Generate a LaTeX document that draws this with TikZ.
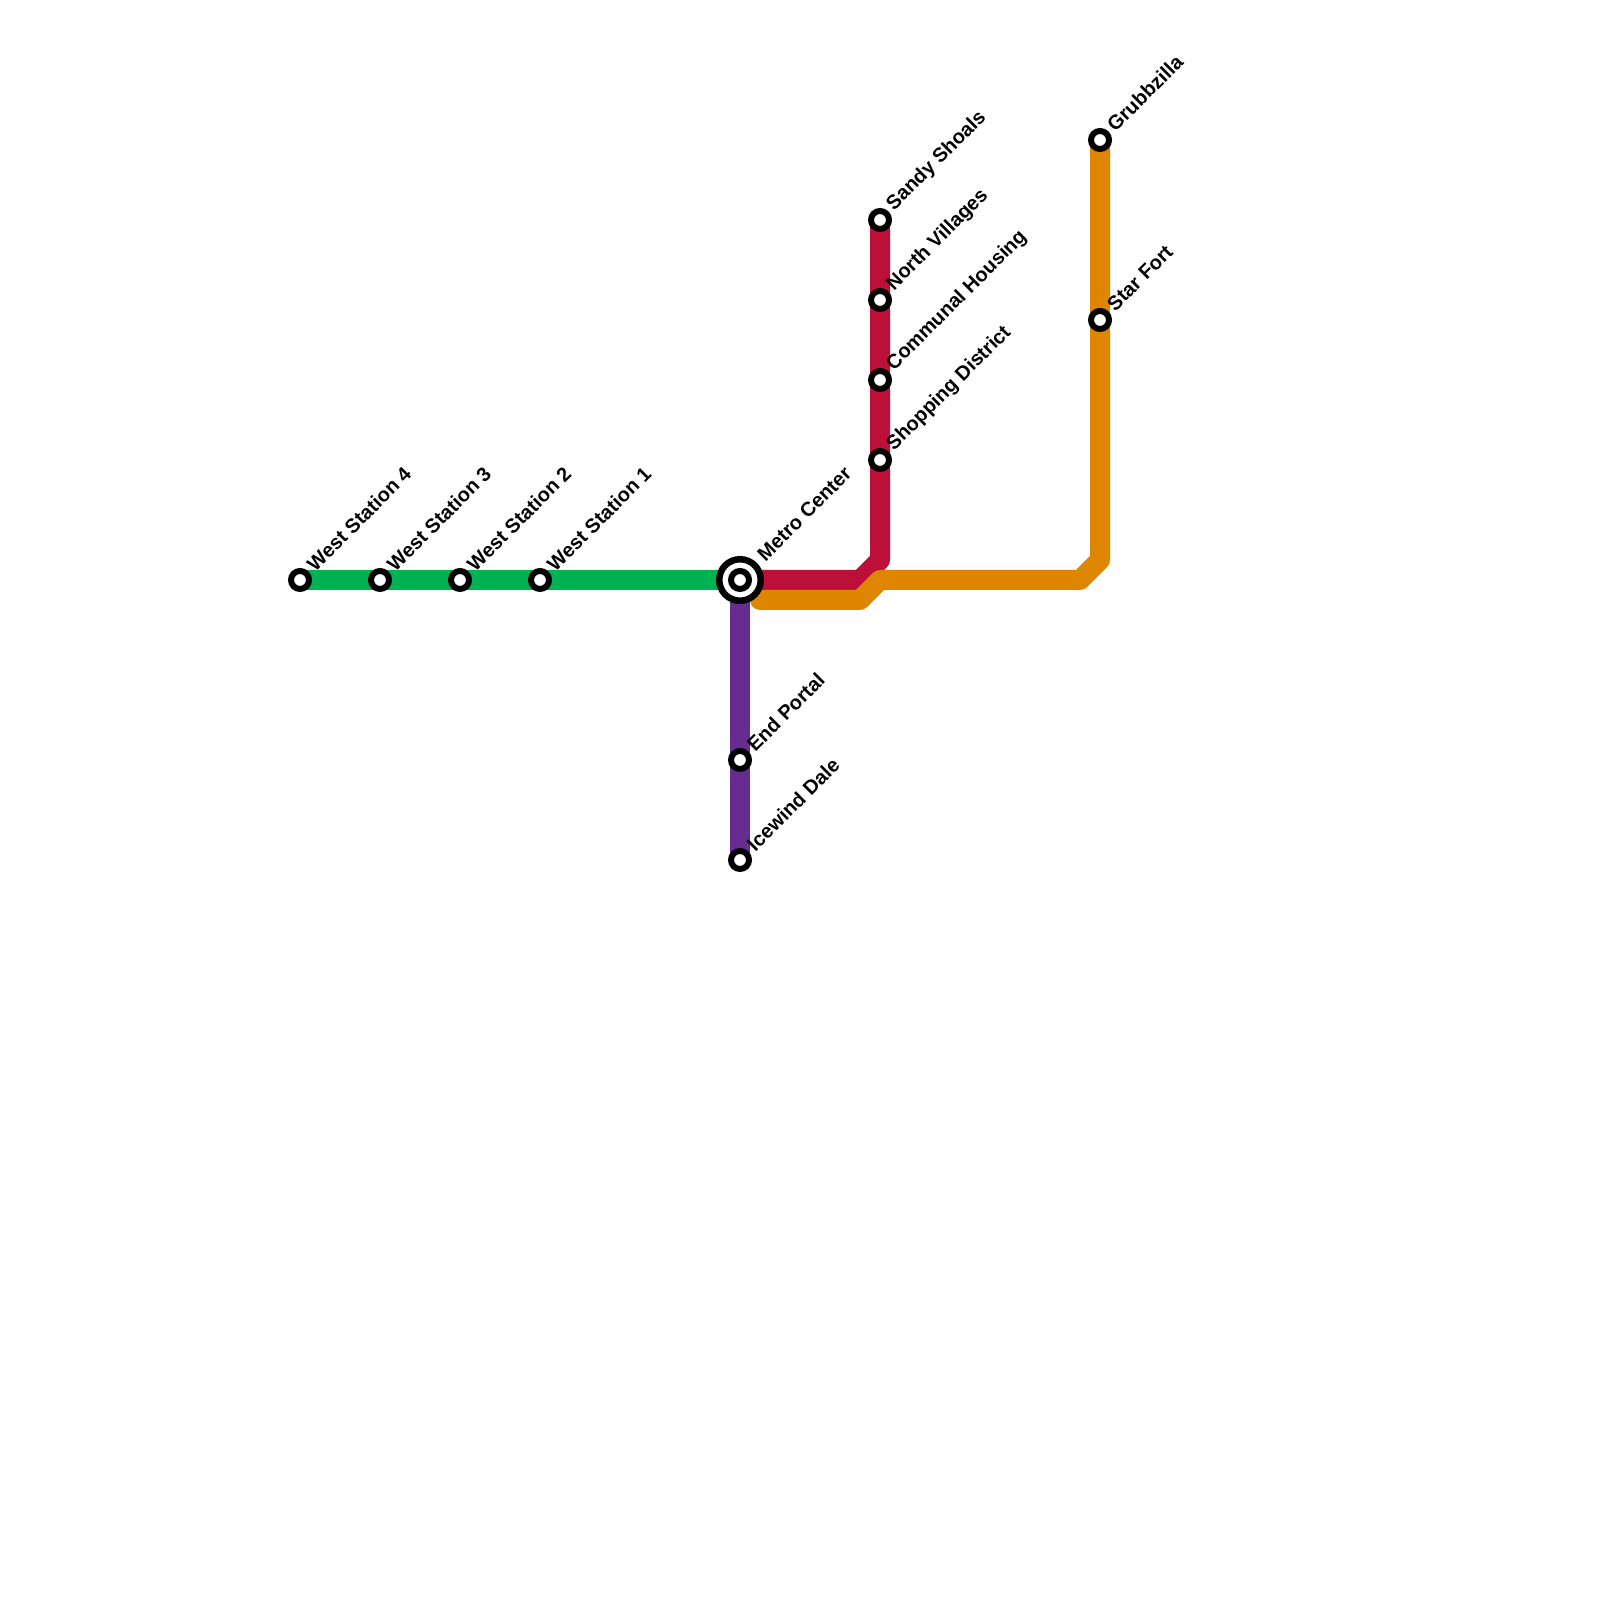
\documentclass[tikz,border=0pt]{standalone}
\usepackage{fontspec}
\setmainfont{Liberation Sans}
\usepackage{xcolor}
\usepackage{tikz}
\definecolor{greenline}{HTML}{00B251}
\definecolor{redline}{HTML}{BD1038}
\definecolor{orangeline}{HTML}{DF8600}
\definecolor{purpleline}{HTML}{662C90}
\pgfdeclarelayer{lines}
\pgfsetlayers{lines,main}
\tikzset{
  station/.style={circle,draw=black,fill=white,line width=0.06cm,minimum size=0.18cm,inner sep=0pt},
  hub/.style={circle,draw=black,fill=white,line width=0.065cm,minimum size=0.415cm,inner sep=0pt},
  stationtext/.style={rotate=45,anchor=west,inner sep=0pt,xshift=0.155cm,yshift=0.015cm,font=\bfseries\fontsize{5.68pt}{6.8pt}\selectfont},
  metroline/.style={line width=0.2cm,line cap=round,line join=round}
}

\begin{document}
\begin{tikzpicture}
    \useasboundingbox (0,0) rectangle (16,16);
    % stations
    \node[hub] (MC) at (7.4,10.2) {};
    \node[station] (MCi) at (7.4,10.2) {};
    \node[station] (W4) at (3.0,10.2) {};
    \node[station] (W3) at (3.8,10.2) {};
    \node[station] (W2) at (4.6,10.2) {};
    \node[station] (W1) at (5.4,10.2) {};
    \node[station] (SS) at (8.8,13.8) {};
    \node[station] (NV) at (8.8,13.0) {};
    \node[station] (CH) at (8.8,12.2) {};
    \node[station] (SD) at (8.8,11.4) {};
    \node[station] (GB) at (11.0,14.6) {};
    \node[station] (SF) at (11.0,12.8) {};
    \node[station] (EP) at (7.4,8.4) {};
    \node[station] (ID) at (7.4,7.4) {};
    % bends
    \coordinate (R1) at (8.6,10.2);
    \coordinate (R2) at (8.8,10.4);
    \coordinate (O0) at (7.6,10.0);
    \coordinate (O1) at (8.6,10.0);
    \coordinate (O2) at (8.8,10.2);
    \coordinate (O3) at (10.8,10.2);
    \coordinate (O4) at (11.0,10.4);
    % lines
    \begin{pgfonlayer}{lines}
      \draw[metroline,greenline] (W4.center) -- (W3.center) -- (W2.center) -- (W1.center) -- (MC.center);
      \draw[metroline,purpleline] (MC.center) -- (EP.center) -- (ID.center);
      \draw[metroline,redline] (MC.center) -- (R1) -- (R2) -- (SD.center) -- (CH.center) -- (NV.center) -- (SS.center);
      \draw[metroline,orangeline] (O0) -- (O1) -- (O2) -- (O3) -- (O4) -- (SF.center) -- (GB.center);
    \end{pgfonlayer}
    % labels
    \node[stationtext] (W4t) at (W4) {West Station 4};
    \node[stationtext] (W3t) at (W3) {West Station 3};
    \node[stationtext] (W2t) at (W2) {West Station 2};
    \node[stationtext] (W1t) at (W1) {West Station 1};
    \node[stationtext,xshift=0.145cm] (MCt) at (MC) {Metro Center};
    \node[stationtext] (SSt) at (SS) {Sandy Shoals};
    \node[stationtext] (NVt) at (NV) {North Villages};
    \node[stationtext] (CHt) at (CH) {Communal Housing};
    \node[stationtext] (SDt) at (SD) {Shopping District};
    \node[stationtext] (GBt) at (GB) {Grubbzilla};
    \node[stationtext] (SFt) at (SF) {Star Fort};
    \node[stationtext] (EPt) at (EP) {End Portal};
    \node[stationtext] (IDt) at (ID) {Icewind Dale};
\end{tikzpicture}
\end{document}
